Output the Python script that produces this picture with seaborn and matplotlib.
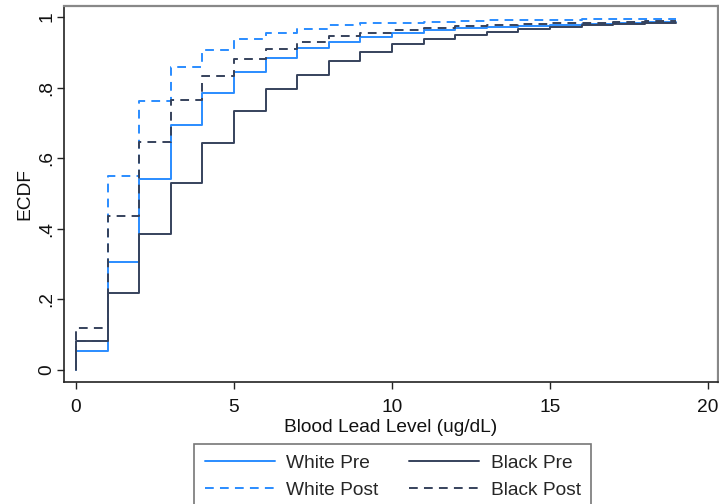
import numpy as np
import pandas as pd
import matplotlib
matplotlib.use("Agg")
import matplotlib.pyplot as plt
import seaborn as sns

# Blood lead level (ug/dL) and cumulative share of children at or below it
lead_level = list(range(20))
white_pre = [0.055, 0.306, 0.541, 0.693, 0.784, 0.843, 0.883, 0.911, 0.930, 0.944,
             0.954, 0.963, 0.968, 0.971, 0.975, 0.978, 0.981, 0.984, 0.986, 0.986]
white_post = [0.083, 0.550, 0.763, 0.857, 0.907, 0.937, 0.954, 0.965, 0.976, 0.982,
              0.984, 0.987, 0.989, 0.990, 0.991, 0.992, 0.993, 0.993, 0.994, 0.994]
black_pre = [0.081, 0.217, 0.385, 0.529, 0.644, 0.733, 0.795, 0.835, 0.876, 0.902,
             0.922, 0.937, 0.949, 0.958, 0.966, 0.972, 0.977, 0.981, 0.984, 0.984]
black_post = [0.119, 0.436, 0.646, 0.765, 0.833, 0.880, 0.908, 0.930, 0.946, 0.954,
              0.962, 0.968, 0.975, 0.977, 0.980, 0.982, 0.984, 0.986, 0.988, 0.988]

groups = ["White Pre", "White Post", "Black Pre", "Black Post"]
series = [white_pre, white_post, black_pre, black_post]

frames = []
for name, vals in zip(groups, series):
    # each curve rises from zero at the lowest level
    frames.append(pd.DataFrame({
        "level": [0] + lead_level,
        "ecdf": [0.0] + vals,
        "group": name,
    }))
df = pd.concat(frames, ignore_index=True)

sns.set_theme(style="white")
plt.rcParams["font.family"] = ["Liberation Sans", "DejaVu Sans"]

FS = 13.8
blue = "#2a8cff"
slate = "#36425c"
palette = {"White Pre": blue, "White Post": blue, "Black Pre": slate, "Black Post": slate}
dashes = {"White Pre": "", "White Post": (4.5, 3.2), "Black Pre": "", "Black Post": (4.5, 3.2)}

fig = plt.figure(figsize=(7.19, 5.04), dpi=100)
ax = fig.add_axes([64 / 719, 1 - 382 / 504, (718 - 64) / 719, (382 - 6) / 504])

sns.lineplot(data=df, x="level", y="ecdf", hue="group", style="group",
             hue_order=groups, style_order=groups, palette=palette, dashes=dashes,
             estimator=None, sort=False, drawstyle="steps-post", linewidth=1.4,
             ax=ax, legend=True)

ax.set_xlim(-0.38, 20.32)
ax.set_ylim(-0.034, 1.031)
ax.set_xticks([0, 5, 10, 15, 20])
ax.set_xticklabels(["0", "5", "10", "15", "20"])
ax.set_yticks([0, 0.2, 0.4, 0.6, 0.8, 1.0])
ax.set_yticklabels(["0", ".2", ".4", ".6", ".8", "1"], rotation=90, va="center")
ax.tick_params(axis="both", which="major", length=5, width=1, color="#222222",
               labelsize=FS, labelcolor="#111111", direction="out",
               bottom=True, left=True)
ax.tick_params(axis="x", pad=7.5)
ax.tick_params(axis="y", pad=1)
ax.set_xlabel("Blood Lead Level (ug/dL)", fontsize=FS, color="#111111", labelpad=1.8)
ax.set_ylabel("ECDF", fontsize=FS, color="#111111", labelpad=4)

for side in ["left", "bottom"]:
    ax.spines[side].set_color("#222222")
    ax.spines[side].set_linewidth(1.2)
for side in ["top", "right"]:
    ax.spines[side].set_color("#888888")
    ax.spines[side].set_linewidth(1.6)

handles, labels = ax.get_legend_handles_labels()
ax.get_legend().remove()
order = [labels.index(g) for g in groups]
leg = fig.legend([handles[i] for i in order], [labels[i] for i in order],
                 ncol=2, loc="upper left", bbox_to_anchor=(194 / 719, 1 - 444 / 504),
                 frameon=True, fancybox=False, fontsize=FS, handlelength=3.65,
                 handletextpad=0.6, columnspacing=1.62, labelspacing=0.5,
                 borderpad=0.55, borderaxespad=0)
leg.get_frame().set_edgecolor("#555555")
leg.get_frame().set_linewidth(1.2)
for line in leg.get_lines():
    line.set_linewidth(1.4)

fig.savefig("out.png", dpi=100)
